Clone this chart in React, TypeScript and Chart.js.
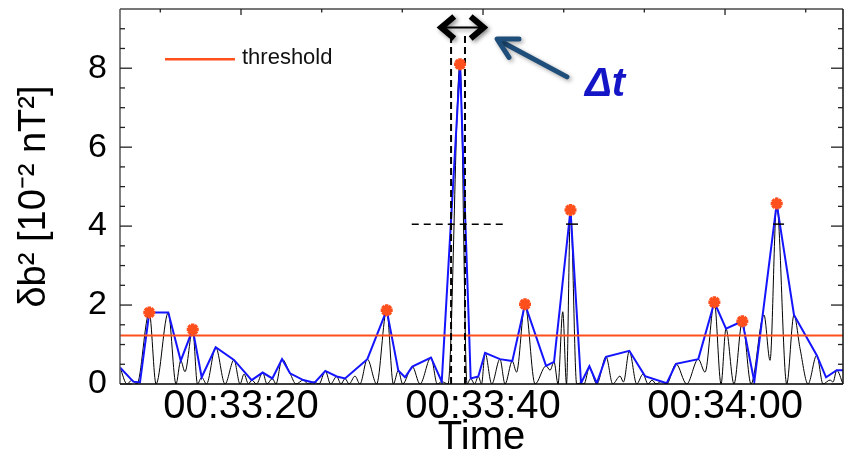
import React, { useEffect, useRef } from "react";
import { Chart, registerables } from "chart.js";
Chart.register(...registerables);

const FONT = "'Liberation Sans', Arial, Helvetica, sans-serif";

// time axis: seconds after 00:33:00
const X_MIN = 10;
const X_MAX = 69.75;
const Y_MIN = 0;
const Y_MAX = 9.5;

const xTickValues = [20, 40, 60];
const xTickLabels = ["00:33:20", "00:33:40", "00:34:00"];
const xMinorTicks = [13.33, 26.67, 33.33, 46.67, 53.33, 66.67];
const yTickValues = [0, 2, 4, 6, 8];
const yMinorTicks = [0.5, 1, 1.5, 2.5, 3, 3.5, 4.5, 5, 5.5, 6.5, 7, 7.5, 8.5, 9];

// black: raw δb² signal
const blackT = [
  10.0, 10.58, 10.99, 11.4, 12.42, 12.98, 13.99, 14.63, 15.02, 15.37,
  16.01, 16.4, 16.75, 17.15, 17.91, 18.68, 19.42, 19.92, 20.25, 20.62,
  20.88, 21.28, 21.79, 22.15, 22.59, 22.89, 23.39, 24.05, 24.55, 25.15,
  25.54, 26.03, 26.45, 26.97, 27.4, 27.91, 28.26, 28.6, 28.93, 29.42,
  29.83, 30.44, 31.21, 32.04, 32.59, 33.0, 33.36, 34.16, 34.79, 35.7,
  36.22, 36.59, 37.11, 38.1, 38.68, 38.98, 39.3, 39.61, 39.88, 40.17,
  40.72, 41.4, 41.82, 42.42, 42.77, 43.47, 44.3, 45.21, 45.54, 45.87,
  46.2, 46.59, 46.9, 47.23, 47.74, 48.1, 48.35, 48.79, 49.4, 50.17,
  50.72, 51.32, 51.61, 52.09, 52.7, 53.22, 53.64, 53.97, 54.3, 54.71,
  55.18, 55.95, 56.83, 57.79, 58.35, 59.12, 59.67, 60.08, 60.74, 61.43,
  62.15, 63.22, 63.72, 64.27, 65.1, 65.7, 66.2, 66.86, 67.58, 68.1,
  68.68, 68.93, 69.23, 69.75,
];
const blackV = [
  0.42, 0, 0.1, 0, 1.81, 0, 1.81, 0, 0.59, 0.31,
  1.38, 0, 0.17, 0, 0.93, 0, 0.61, 0, 0.25, 0,
  0.1, 0, 0.29, 0, 0.14, 0, 0.63, 0.27, 0, 0.1,
  0, 0.05, 0, 0.33, 0, 0.19, 0, 0.14, 0, 0.2,
  0, 0.63, 0, 1.87, 0, 0.34, 0, 0.44, 0, 0.67,
  0, 0.06, 0, 8.1, 0, 0.14, 0, 0.19, 0, 0.79,
  0, 0.63, 0, 0.58, 0.3, 2.02, 0, 0.46, 0.35, 0.56,
  0, 1.83, 0, 4.41, 0, 0.03, 0, 0.42, 0, 0.69,
  0, 0.2, 0.05, 0.84, 0, 0.25, 0, 0.1, 0, 0.06,
  0, 0.51, 0, 0.63, 0.3, 2.07, 0, 1.4, 0, 1.59,
  0, 1.75, 0.6, 4.57, 0, 1.75, 0.9, 0, 0.73, 0,
  0.1, 0.05, 0.35, 0,
];

// blue: envelope of local maxima
const blueT = [
  10.0, 11.1, 11.65, 12.42, 13.99, 15.02, 16.01, 16.75, 17.91, 19.42,
  20.88, 21.79, 22.59, 23.39, 24.05, 25.15, 26.06, 26.97, 27.91, 28.6,
  30.44, 32.04, 33.0, 33.55, 34.16, 35.7, 36.59, 38.1, 38.98, 39.61,
  40.17, 41.4, 42.42, 43.47, 45.21, 45.87, 47.23, 48.1, 48.79, 49.4,
  50.17, 52.09, 53.39, 55.18, 55.95, 57.79, 59.12, 60.08, 61.43, 62.42,
  64.27, 65.7, 67.58, 68.35, 69.23, 69.75,
];
const blueV = [
  0.42, 0.06, 0.04, 1.81, 1.81, 0.59, 1.38, 0.17, 0.93, 0.61,
  0.1, 0.29, 0.14, 0.63, 0.27, 0.1, 0.03, 0.33, 0.19, 0.14,
  0.63, 1.87, 0.34, 0.17, 0.44, 0.67, 0.06, 8.1, 0.14, 0.19,
  0.79, 0.63, 0.58, 2.02, 0.46, 0.56, 4.41, 0.02, 0.45, 0.02,
  0.69, 0.84, 0.2, 0.02, 0.51, 0.63, 2.07, 1.4, 1.59, 0.06,
  4.57, 1.75, 0.73, 0.17, 0.35, 0.35,
];

// peaks above threshold
const peakT = [12.42, 16.01, 32.04, 38.1, 43.47, 47.23, 59.12, 61.43, 64.27];
const peakV = [1.81, 1.38, 1.87, 8.1, 2.02, 4.41, 2.07, 1.59, 4.57];

const THRESHOLD = 1.23;

// Δt markers
const dtLeft = 37.36;
const dtRight = 38.51;
const dtTop = 8.9;
const halfLevel = 4.05;
const halfSpans = [[34.11, 41.65]];
const shortSpans = [
  [46.86, 47.85],
  [63.97, 64.88],
];

const ORANGE = "#ff4f1c";
const BLUE = "#1414ff";

const pts = (t: number[], v: number[]) => t.map((x, i) => ({ x, y: v[i] }));

const decorPlugin = {
  id: "decor",
  afterDraw(chart: any) {
    const { ctx, chartArea: a, scales } = chart;
    const xs = scales.x;
    const ys = scales.y;
    const line = (x1: number, y1: number, x2: number, y2: number) => {
      ctx.beginPath();
      ctx.moveTo(x1, y1);
      ctx.lineTo(x2, y2);
      ctx.stroke();
    };
    ctx.save();
    // frame
    ctx.lineCap = "butt";
    ctx.strokeStyle = "#777";
    ctx.lineWidth = 2;
    line(a.left, a.top, a.right, a.top);
    ctx.strokeStyle = "#555";
    ctx.lineWidth = 1.5;
    line(a.left, a.top, a.left, a.bottom);
    ctx.strokeStyle = "#111";
    ctx.lineWidth = 1.5;
    line(a.right, a.top, a.right, a.bottom);
    ctx.strokeStyle = "#000";
    line(a.left, a.bottom, a.right, a.bottom);

    // y ticks (inside, both sides)
    ctx.strokeStyle = "#222";
    ctx.lineWidth = 1.3;
    yTickValues.forEach((v) => {
      const py = ys.getPixelForValue(v);
      line(a.left, py, a.left + 12, py);
      line(a.right, py, a.right - 12, py);
    });
    yMinorTicks.forEach((v) => {
      const py = ys.getPixelForValue(v);
      line(a.left, py, a.left + 5, py);
      line(a.right, py, a.right - 5, py);
    });
    // x ticks on top (inside)
    xTickValues.forEach((v) => {
      const px = xs.getPixelForValue(v);
      line(px, a.top, px, a.top + 6);
    });
    xMinorTicks.forEach((v) => {
      const px = xs.getPixelForValue(v);
      line(px, a.top, px, a.top + 3.5);
    });

    // legend
    ctx.strokeStyle = ORANGE;
    ctx.lineWidth = 2.5;
    const ly = ys.getPixelForValue(8.23);
    line(xs.getPixelForValue(13.72), ly, xs.getPixelForValue(19.5), ly);
    ctx.fillStyle = "#111";
    ctx.font = `22px ${FONT}`;
    ctx.textBaseline = "middle";
    ctx.textAlign = "left";
    ctx.fillText("threshold", xs.getPixelForValue(20.08), ly - 1);

    // double arrow (Δt width)
    const ax1 = xs.getPixelForValue(36.3);
    const ax2 = xs.getPixelForValue(40.3);
    const ay = ys.getPixelForValue(9.03);
    ctx.save();
    ctx.shadowColor = "rgba(0,0,0,0.45)";
    ctx.shadowBlur = 4;
    ctx.shadowOffsetX = 2;
    ctx.shadowOffsetY = 2;
    ctx.strokeStyle = "#000";
    ctx.lineJoin = "miter";
    ctx.lineWidth = 6;
    ctx.beginPath();
    ctx.moveTo(ax1 + 16, ay - 11);
    ctx.lineTo(ax1 + 3, ay);
    ctx.lineTo(ax1 + 16, ay + 11);
    ctx.stroke();
    ctx.beginPath();
    ctx.moveTo(ax2 - 16, ay - 11);
    ctx.lineTo(ax2 - 3, ay);
    ctx.lineTo(ax2 - 16, ay + 11);
    ctx.stroke();
    ctx.lineWidth = 2;
    line(ax1 + 4, ay, ax2 - 4, ay);
    ctx.restore();

    // blue pointer arrow
    const tx = xs.getPixelForValue(41.16);
    const ty = ys.getPixelForValue(8.74);
    const sx = xs.getPixelForValue(46.94);
    const sy = ys.getPixelForValue(7.78);
    ctx.save();
    ctx.shadowColor = "rgba(0,0,0,0.35)";
    ctx.shadowBlur = 4;
    ctx.shadowOffsetX = 2;
    ctx.shadowOffsetY = 2;
    ctx.strokeStyle = "#1f4e7a";
    ctx.lineWidth = 5;
    ctx.lineCap = "round";
    ctx.lineJoin = "round";
    line(sx, sy, tx + 3, ty + 2);
    const ang = Math.atan2(sy - ty, sx - tx);
    const L = 22;
    ctx.beginPath();
    ctx.moveTo(tx + L * Math.cos(ang - 0.5), ty + L * Math.sin(ang - 0.5));
    ctx.lineTo(tx, ty);
    ctx.lineTo(tx + L * Math.cos(ang + 0.5), ty + L * Math.sin(ang + 0.5));
    ctx.stroke();
    ctx.restore();

    // Δt label
    ctx.fillStyle = "#1515c8";
    ctx.font = `italic bold 40px ${FONT}`;
    ctx.textBaseline = "alphabetic";
    ctx.textAlign = "left";
    ctx.fillText("Δt", xs.getPixelForValue(48.43), ys.getPixelForValue(7.3));
    ctx.restore();
  },
};

export default function App() {
  const ref = useRef<HTMLCanvasElement>(null);
  useEffect(() => {
    document.body.style.margin = "0";
    const datasets: any[] = [
      {
        label: "peaks",
        data: pts(peakT, peakV),
        showLine: false,
        pointStyle: "star",
        pointRadius: 6,
        pointBorderWidth: 3.5,
        pointBorderColor: ORANGE,
        pointBackgroundColor: ORANGE,
        order: 0,
      },
      {
        label: "dt-left",
        data: [
          { x: dtLeft, y: 0 },
          { x: dtLeft, y: dtTop },
        ],
        borderColor: "#000",
        borderWidth: 2,
        borderDash: [7, 4],
        pointRadius: 0,
        order: 1,
      },
      {
        label: "dt-right",
        data: [
          { x: dtRight, y: 0 },
          { x: dtRight, y: dtTop },
        ],
        borderColor: "#000",
        borderWidth: 2,
        borderDash: [7, 4],
        pointRadius: 0,
        order: 1,
      },
      ...halfSpans.map((s) => ({
        label: "half",
        data: [
          { x: s[0], y: halfLevel },
          { x: s[1], y: halfLevel },
        ],
        borderColor: "#000",
        borderWidth: 1.5,
        borderDash: [7, 5],
        pointRadius: 0,
        order: 1,
      })),
      ...shortSpans.map((s) => ({
        label: "half-short",
        data: [
          { x: s[0], y: halfLevel },
          { x: s[1], y: halfLevel },
        ],
        borderColor: "#000",
        borderWidth: 1.5,
        pointRadius: 0,
        order: 1,
      })),
      {
        label: "threshold",
        data: [
          { x: X_MIN, y: THRESHOLD },
          { x: X_MAX, y: THRESHOLD },
        ],
        borderColor: ORANGE,
        borderWidth: 2,
        pointRadius: 0,
        order: 2,
      },
      {
        label: "envelope",
        data: pts(blueT, blueV),
        borderColor: BLUE,
        borderWidth: 2,
        pointRadius: 0,
        tension: 0,
        order: 3,
      },
      {
        label: "signal",
        data: pts(blackT, blackV),
        borderColor: "#000",
        borderWidth: 1,
        pointRadius: 0,
        cubicInterpolationMode: "monotone",
        order: 4,
      },
    ];
    const chart = new Chart(ref.current as HTMLCanvasElement, {
      type: "line",
      data: { datasets },
      options: {
        animation: false,
        responsive: false,
        events: [],
        layout: { autoPadding: false, padding: { top: 9, right: 1, left: 0, bottom: 0 } },
        plugins: { legend: { display: false }, tooltip: { enabled: false } },
        scales: {
          x: {
            type: "linear",
            min: X_MIN,
            max: X_MAX,
            grid: { display: false, drawTicks: false },
            border: { display: false },
            afterBuildTicks: (s: any) => {
              s.ticks = xTickValues.map((v) => ({ value: v }));
            },
            afterFit: (s: any) => {
              s.height = 73;
              s.paddingLeft = 0;
              s.paddingRight = 0;
            },
            ticks: {
              autoSkip: false,
              maxRotation: 0,
              padding: 3,
              color: "#000",
              font: { family: FONT, size: 40, lineHeight: 1 },
              callback: (_v: any, i: number) => xTickLabels[i],
            },
            title: {
              display: true,
              text: "Time",
              color: "#000",
              font: { family: FONT, size: 40, lineHeight: 0.95 },
              padding: { top: 0, bottom: 0 },
            },
          },
          y: {
            type: "linear",
            min: Y_MIN,
            max: Y_MAX,
            grid: { display: false, drawTicks: false },
            border: { display: false },
            afterBuildTicks: (s: any) => {
              s.ticks = yTickValues.map((v) => ({ value: v }));
            },
            afterFit: (s: any) => {
              s.width = 120;
              s.paddingTop = 0;
              s.paddingBottom = 0;
            },
            ticks: {
              autoSkip: false,
              padding: 13,
              color: "#000",
              font: { family: FONT, size: 34, lineHeight: 1 },
              callback: (v: any) => String(v),
            },
            title: {
              display: true,
              text: "δb² [10⁻² nT²]",
              color: "#000",
              font: { family: FONT, size: 38, lineHeight: 1 },
              padding: { top: 16, bottom: 0 },
            },
          },
        },
      },
      plugins: [decorPlugin],
    } as any);
    return () => chart.destroy();
  }, []);
  return (
    <div style={{ width: 844, height: 457 }}>
      <canvas ref={ref} width={844} height={457} style={{ display: "block" }} />
    </div>
  );
}
